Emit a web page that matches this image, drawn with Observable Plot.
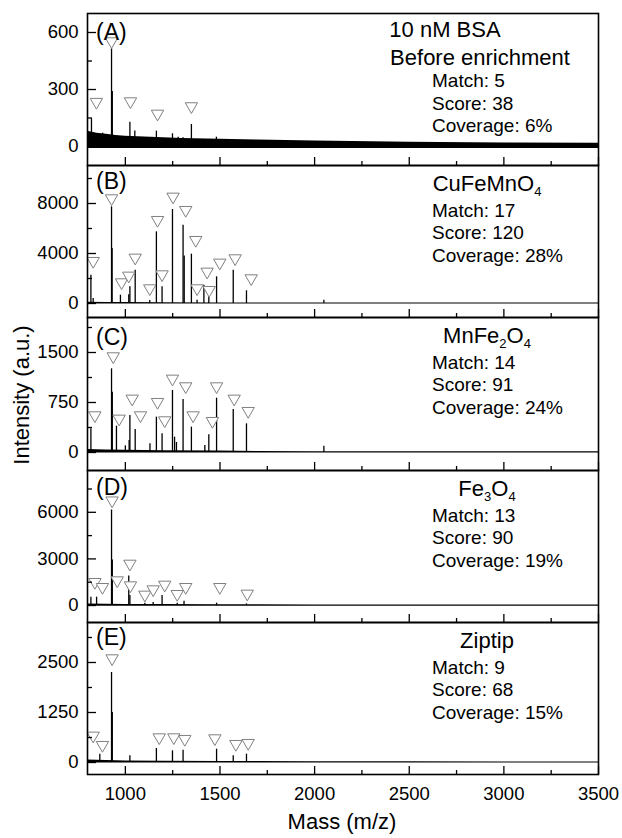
<!DOCTYPE html>
<html><head><meta charset="utf-8">
<script src="https://cdn.jsdelivr.net/npm/d3@7"></script>
<script src="https://cdn.jsdelivr.net/npm/@observablehq/plot@0.6"></script>
<style>
body{margin:0;background:#fff;}
#chart{position:relative;width:622px;height:838px;font-family:"Liberation Sans",Arial,sans-serif;color:#000;overflow:hidden;}
#chart svg{position:absolute;left:0;overflow:visible;}
.ylab{position:absolute;left:22px;top:395px;transform:translate(-50%,-50%) rotate(-90deg);font-size:22px;white-space:nowrap;}
.xlab{position:absolute;left:342px;top:822px;transform:translate(-50%,-50%);font-size:22px;white-space:nowrap;}
</style></head>
<body><div id="chart"></div>
<script>
// ---------- x axis ----------
const xMajor = [1000, 1500, 2000, 2500, 3000, 3500];
const xMinor = [1250, 1750, 2250, 2750, 3250];

// ---------- panel text ----------
const panelLabels = ["(A)", "(B)", "(C)", "(D)", "(E)"];
const matchCounts = [5, 17, 14, 13, 9];
const scores = [38, 120, 91, 90, 68];
const coverages = [6, 28, 24, 19, 15];

// ---------- y ticks ----------
const yMajorA = [0, 300, 600],   yMinorA = [150, 450];
const yMajorB = [0, 4000, 8000], yMinorB = [2000, 6000, 10000];
const yMajorC = [0, 750, 1500],  yMinorC = [375, 1125, 1875];
const yMajorD = [0, 3000, 6000], yMinorD = [1500, 4500, 7500];
const yMajorE = [0, 1250, 2500], yMinorE = [625, 1875, 3125];

// ---------- Panel A: 10 nM BSA before enrichment ----------
const peakMzA  = [821, 846, 880, 927, 931, 960, 1024, 1050, 1100, 1164, 1249, 1279, 1305, 1349, 1481, 1530];
const peakIntA = [146, 60, 70, 515, 290, 45, 128, 81, 40, 81, 67, 49, 46, 116, 49, 30];
const matchMzA  = [847, 927, 1027, 1170, 1349];
const matchIntA = [225, 544, 228, 163, 202];
const noiseMzA = [800, 850, 900, 950, 1000, 1100, 1200, 1300, 1500, 1700, 2000, 2200, 2500, 3000, 3500];
const noiseHiA = [80, 70, 64, 58, 54, 50, 46, 42, 38, 34, 29, 26, 22, 19, 17];
const noiseLoA = [-10, -10, -10, -10, -10, -10, -10, -10, -10, -10, -10, -10, -10, -10, -10];

// ---------- Panel B: CuFeMnO4 ----------
const peakMzB  = [818, 830, 927, 930, 974, 1018, 1024, 1052, 1129, 1164, 1194, 1249, 1305, 1311, 1349, 1379, 1415, 1441, 1482, 1570, 1640, 2049];
const peakIntB = [2267, 400, 7733, 4400, 667, 700, 1333, 2667, 250, 5733, 1333, 7520, 6267, 3800, 3947, 267, 1467, 533, 2133, 2667, 1013, 267];
const matchMzB  = [830, 927, 980, 1018, 1052, 1129, 1170, 1194, 1252, 1319, 1372, 1379, 1432, 1443, 1499, 1580, 1665];
const matchIntB = [3253, 8267, 1547, 2080, 3520, 1067, 6533, 2187, 8400, 7333, 4933, 1067, 2400, 933, 3120, 3467, 1867];
const noiseMzB = [800, 900, 1000, 1200, 1500, 1700, 2000, 2500, 3000, 3500];
const noiseHiB = [110, 90, 75, 60, 50, 45, 40, 40, 40, 40];
const noiseLoB = [-45, -45, -45, -45, -45, -45, -45, -45, -45, -45];

// ---------- Panel C: MnFe2O4 ----------
const peakMzC  = [818, 927, 931, 953, 1000, 1020, 1024, 1052, 1130, 1164, 1194, 1249, 1260, 1270, 1305, 1349, 1420, 1441, 1482, 1570, 1640, 2049];
const peakIntC = [355, 1255, 905, 395, 100, 180, 555, 345, 130, 530, 280, 930, 230, 150, 795, 380, 105, 265, 815, 645, 430, 95];
const matchMzC  = [839, 936, 967, 1036, 1080, 1170, 1208, 1249, 1319, 1358, 1460, 1482, 1575, 1649];
const matchIntC = [530, 1415, 480, 780, 530, 730, 455, 1080, 965, 530, 445, 965, 780, 595];
const noiseMzC = [800, 900, 1000, 1200, 1500, 1700, 2000, 2500, 3000, 3500];
const noiseHiC = [45, 38, 32, 28, 22, 16, 12, 10, 10, 10];
const noiseLoC = [-8, -8, -8, -8, -8, -8, -8, -8, -8, -8];

// ---------- Panel D: Fe3O4 ----------
const peakMzD  = [818, 848, 927, 931, 1018, 1024, 1103, 1147, 1194, 1274, 1310, 1482, 1640];
const peakIntD = [536, 536, 6150, 2936, 1900, 643, 150, 200, 643, 150, 279, 150, 107];
const matchMzD  = [839, 879, 930, 957, 1024, 1027, 1103, 1147, 1208, 1274, 1319, 1499, 1644];
const matchIntD = [1393, 1071, 6643, 1500, 2571, 1179, 579, 921, 1221, 621, 1071, 1071, 643];
const noiseMzD = [800, 900, 1000, 1200, 1500, 1700, 2000, 2500, 3000, 3500];
const noiseHiD = [100, 85, 70, 60, 50, 45, 40, 40, 40, 40];
const noiseLoD = [-45, -45, -45, -45, -45, -45, -45, -45, -45, -45];

// ---------- Panel E: Ziptip ----------
const peakMzE  = [865, 927, 931, 1024, 1164, 1249, 1305, 1482, 1570, 1640];
const peakIntE = [208, 2250, 1250, 167, 350, 292, 308, 333, 167, 208];
const matchMzE  = [830, 879, 930, 1179, 1256, 1314, 1473, 1584, 1649];
const matchIntE = [625, 392, 2558, 583, 583, 542, 558, 417, 442];
const noiseMzE = [800, 900, 1000, 1200, 1500, 1700, 2000, 2500, 3000, 3500];
const noiseHiE = [60, 48, 40, 32, 26, 22, 18, 16, 15, 15];
const noiseLoE = [-15, -15, -15, -15, -15, -15, -15, -15, -15, -15];

// ---------- build ----------
const zip2 = (m, v) => m.map((d, i) => ({m: d, i: v[i]}));
const zip3 = (m, hi, lo) => m.map((d, i) => ({m: d, hi: hi[i], lo: lo[i]}));

const triDown = {
  draw(ctx, size) {
    const s = Math.sqrt(size * 4 / Math.sqrt(3));
    const h = s * Math.sqrt(3) / 2;
    ctx.moveTo(-s / 2, -h / 2);
    ctx.lineTo(s / 2, -h / 2);
    ctx.lineTo(0, h / 2);
    ctx.closePath();
  }
};

const bounds = [13, 165, 317, 470, 622, 774];
const panels = [
  {domain: [-100, 700], major: yMajorA, minor: yMinorA, peaks: zip2(peakMzA, peakIntA), matches: zip2(matchMzA, matchIntA), noise: zip3(noiseMzA, noiseHiA, noiseLoA),
   name: null, labelY: 27},
  {domain: [-1120, 11040], major: yMajorB, minor: yMinorB, peaks: zip2(peakMzB, peakIntB), matches: zip2(matchMzB, matchIntB), noise: zip3(noiseMzB, noiseHiB, noiseLoB),
   name: [["CuFeMnO", false], ["4", true]], labelY: 24},
  {domain: [-270, 2025], major: yMajorC, minor: yMinorC, peaks: zip2(peakMzC, peakIntC), matches: zip2(matchMzC, matchIntC), noise: zip3(noiseMzC, noiseHiC, noiseLoC),
   name: [["MnFe", false], ["2", true], ["O", false], ["4", true]], labelY: 28},
  {domain: [-1094, 8691], major: yMajorD, minor: yMinorD, peaks: zip2(peakMzD, peakIntD), matches: zip2(matchMzD, matchIntD), noise: zip3(noiseMzD, noiseHiD, noiseLoD),
   name: [["Fe", false], ["3", true], ["O", false], ["4", true]], labelY: 25},
  {domain: [-300, 3500], major: yMajorE, minor: yMinorE, peaks: zip2(peakMzE, peakIntE), matches: zip2(matchMzE, matchIntE), noise: zip3(noiseMzE, noiseHiE, noiseLoE),
   name: [["Ziptip", false]], labelY: 23}
];

const chart = document.getElementById("chart");
const fmt = d => `${d}`;
const blank = () => "";

panels.forEach((p, k) => {
  const top = bounds[k], h = bounds[k + 1] - bounds[k];
  const last = k === panels.length - 1;
  const svg = Plot.plot({
    width: 622,
    height: h + (last ? 40 : 0),
    marginLeft: 87, marginRight: 24, marginTop: 0, marginBottom: last ? 40 : 0,
    style: {background: "transparent", overflow: "visible", fontFamily: "'Liberation Sans', Arial, sans-serif", fontSize: "18.5px", color: "#000"},
    x: {domain: [800, 3500], axis: null},
    y: {domain: p.domain, axis: null},
    marks: [
      Plot.areaY(p.noise, {x: "m", y1: "lo", y2: "hi", fill: "#000"}),
      Plot.ruleX(p.peaks, {x: "m", y1: 0, y2: "i", stroke: "#000", strokeWidth: 1.3}),
      Plot.dot(p.matches, {x: "m", y: "i", symbol: triDown, r: 4.6, fill: "#fff", stroke: "#808080", strokeWidth: 1}),
      Plot.axisY(p.major, {anchor: "left", tickSize: -9, tickFormat: blank, label: null, strokeWidth: 1.3}),
      Plot.axisY(p.minor, {anchor: "left", tickSize: -5, tickFormat: blank, label: null, strokeWidth: 1.3}),
      Plot.axisY(p.major, {anchor: "left", tickSize: 0, tickPadding: 9, tickFormat: fmt, label: null, fontSize: 18.5}),
      Plot.axisX(xMajor, {anchor: "bottom", tickSize: -8, tickFormat: blank, label: null, strokeWidth: 1.3}),
      Plot.axisX(xMinor, {anchor: "bottom", tickSize: -4, tickFormat: blank, label: null, strokeWidth: 1.3}),
      last ? Plot.axisX(xMajor, {anchor: "bottom", tickSize: 0, tickPadding: 12, tickFormat: fmt, label: null, fontSize: 18.5}) : null,
      Plot.frame({stroke: "#000", strokeWidth: 1.6})
    ]
  });
  svg.style.top = top + "px";
  chart.appendChild(svg);

  const s = d3.select(svg);
  const add = (x, y, size, anchor) => s.append("text").attr("x", x).attr("y", y)
    .attr("font-size", size).attr("text-anchor", anchor).attr("fill", "#000");

  add(96, p.labelY, 23, "start").text(panelLabels[k]);

  if (k === 0) {
    add(445, 23.7, 22, "middle").text("10 nM BSA");
    add(480, 52, 22, "middle").text("Before enrichment");
    add(432, 74.3, 19, "start").text(`Match: ${matchCounts[k]}`);
    add(432, 97, 19, "start").text(`Score: ${scores[k]}`);
    add(432, 118.7, 19, "start").text(`Coverage: ${coverages[k]}%`);
  } else {
    const t = add(487, 25.5, 22, "middle");
    let shifted = false;
    p.name.forEach(([str, sub]) => {
      const ts = t.append("tspan").text(str);
      if (sub && !shifted) { ts.attr("dy", 5.5).attr("font-size", 13); shifted = true; }
      else if (sub) { ts.attr("font-size", 13); }
      else if (!sub && shifted) { ts.attr("dy", -5.5); shifted = false; }
    });
    add(432, 51.5, 19, "start").text(`Match: ${matchCounts[k]}`);
    add(432, 74.3, 19, "start").text(`Score: ${scores[k]}`);
    add(432, 96.8, 19, "start").text(`Coverage: ${coverages[k]}%`);
  }
});

const yl = document.createElement("div");
yl.className = "ylab"; yl.textContent = "Intensity (a.u.)";
chart.appendChild(yl);
const xl = document.createElement("div");
xl.className = "xlab"; xl.textContent = "Mass (m/z)";
chart.appendChild(xl);
</script></body></html>
